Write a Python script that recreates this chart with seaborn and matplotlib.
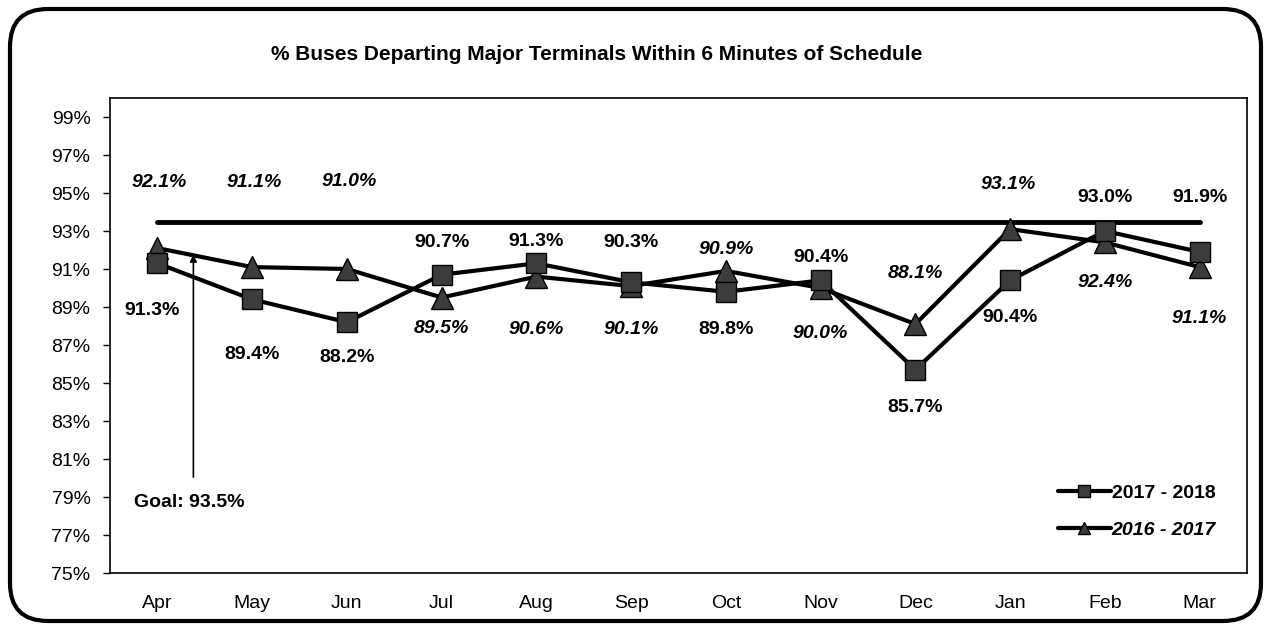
import numpy as np
import pandas as pd
import seaborn as sns
import matplotlib.pyplot as plt
from matplotlib.lines import Line2D
from matplotlib.patches import FancyBboxPatch

sns.set_style("white")
plt.rcParams["font.family"] = ["Liberation Sans", "DejaVu Sans"]
plt.rcParams["text.color"] = "black"
plt.rcParams["xtick.color"] = "black"
plt.rcParams["ytick.color"] = "black"

months = ["Apr", "May", "Jun", "Jul", "Aug", "Sep", "Oct", "Nov", "Dec", "Jan", "Feb", "Mar"]
fy_2018 = [91.3, 89.4, 88.2, 90.7, 91.3, 90.3, 89.8, 90.4, 85.7, 90.4, 93.0, 91.9]
fy_2017 = [92.1, 91.1, 91.0, 89.5, 90.6, 90.1, 90.9, 90.0, 88.1, 93.1, 92.4, 91.1]
goal = 93.5

# label offsets in pixels (dx, dy) for each point
off_2018 = [(-5, -47), (0, -55), (0, -35), (0, 32), (0, 22), (0, 40),
            (0, -38), (0, 23), (0, -38), (0, -37), (0, 33), (0, 54)]
off_2017 = [(2, 66), (2, 85), (2, 87), (0, -31), (0, -53), (0, -43),
            (0, 21), (0, -46), (0, 51), (-2, 45), (0, -40), (0, -51)]

df = pd.DataFrame({"pos": np.arange(len(months)), "fy2018": fy_2018, "fy2017": fy_2017})

fig = plt.figure(figsize=(12.71, 6.28), dpi=100)
ax = fig.add_axes([110 / 1271, 55 / 628, 1137 / 1271, 475 / 628])

# goal line
ax.plot([0, len(months) - 1], [goal, goal], color="black", lw=3.5, zorder=2)

sns.lineplot(data=df, x="pos", y="fy2017", ax=ax, color="black", lw=3, marker="^",
             markersize=16, markerfacecolor="#3c3c3c", markeredgecolor="black",
             markeredgewidth=1, sort=False, zorder=3)
sns.lineplot(data=df, x="pos", y="fy2018", ax=ax, color="black", lw=3, marker="s",
             markersize=15, markerfacecolor="#3c3c3c", markeredgecolor="black",
             markeredgewidth=1, sort=False, zorder=4)

for i, v in enumerate(fy_2018):
    ax.annotate(f"{v:.1f}%", (i, v), xytext=off_2018[i], textcoords="offset pixels",
                ha="center", va="center", fontsize=14, fontweight="bold")
for i, v in enumerate(fy_2017):
    ax.annotate(f"{v:.1f}%", (i, v), xytext=off_2017[i], textcoords="offset pixels",
                ha="center", va="center", fontsize=14, fontweight="bold", style="italic")

# goal annotation
ax.annotate("", xy=(0.38, 91.9), xytext=(0.38, 79.9),
            arrowprops=dict(arrowstyle="-|>", color="black", lw=1.2, mutation_scale=10))
ax.text(-0.25, 78.7, f"Goal: {goal}%", ha="left", va="center", fontsize=14, fontweight="bold")

ax.set_xlim(-0.5, len(months) - 0.5)
ax.set_ylim(75, 100)
ax.set_yticks(np.arange(75, 100, 2))
ax.set_yticklabels([f"{t}%" for t in range(75, 100, 2)], fontsize=14)
ax.set_xticks(np.arange(len(months)))
ax.set_xticklabels(months, fontsize=14)
ax.set_xticks(np.arange(-0.5, len(months), 1), minor=True)
ax.tick_params(axis="x", which="major", length=0, pad=16)
ax.tick_params(axis="x", which="minor", length=5, width=1, direction="inout", color="black")
ax.tick_params(axis="y", length=5, width=1, direction="out", color="black", pad=9, left=True)
ax.set_xlabel("")
ax.set_ylabel("")
for s in ax.spines.values():
    s.set_color("black")
    s.set_linewidth(1.2)

handles = [
    Line2D([], [], color="black", lw=3, marker="s", markersize=8,
           markerfacecolor="#3c3c3c", markeredgecolor="black"),
    Line2D([], [], color="black", lw=3, marker="^", markersize=8,
           markerfacecolor="#3c3c3c", markeredgecolor="black"),
]
leg = ax.legend(handles, ["2017 - 2018", "2016 - 2017"], loc="lower right",
                bbox_to_anchor=(0.988, 0.035), frameon=False, handlelength=2.7,
                handletextpad=0.05, labelspacing=1.0,
                prop={"size": 14, "weight": "bold"})
leg.get_texts()[1].set_style("italic")

fig.text(597 / 1271, 1 - 55 / 628, "% Buses Departing Major Terminals Within 6 Minutes of Schedule",
         ha="center", va="center", fontsize=15, fontweight="bold")

border = FancyBboxPatch((10 / 1271, 7 / 628), 1251 / 1271, 612 / 628,
                        boxstyle="round,pad=0,rounding_size=0.03", transform=fig.transFigure,
                        fill=False, edgecolor="black", lw=3, mutation_aspect=2.0)
fig.patches.append(border)

fig.savefig("out.png", dpi=100)
